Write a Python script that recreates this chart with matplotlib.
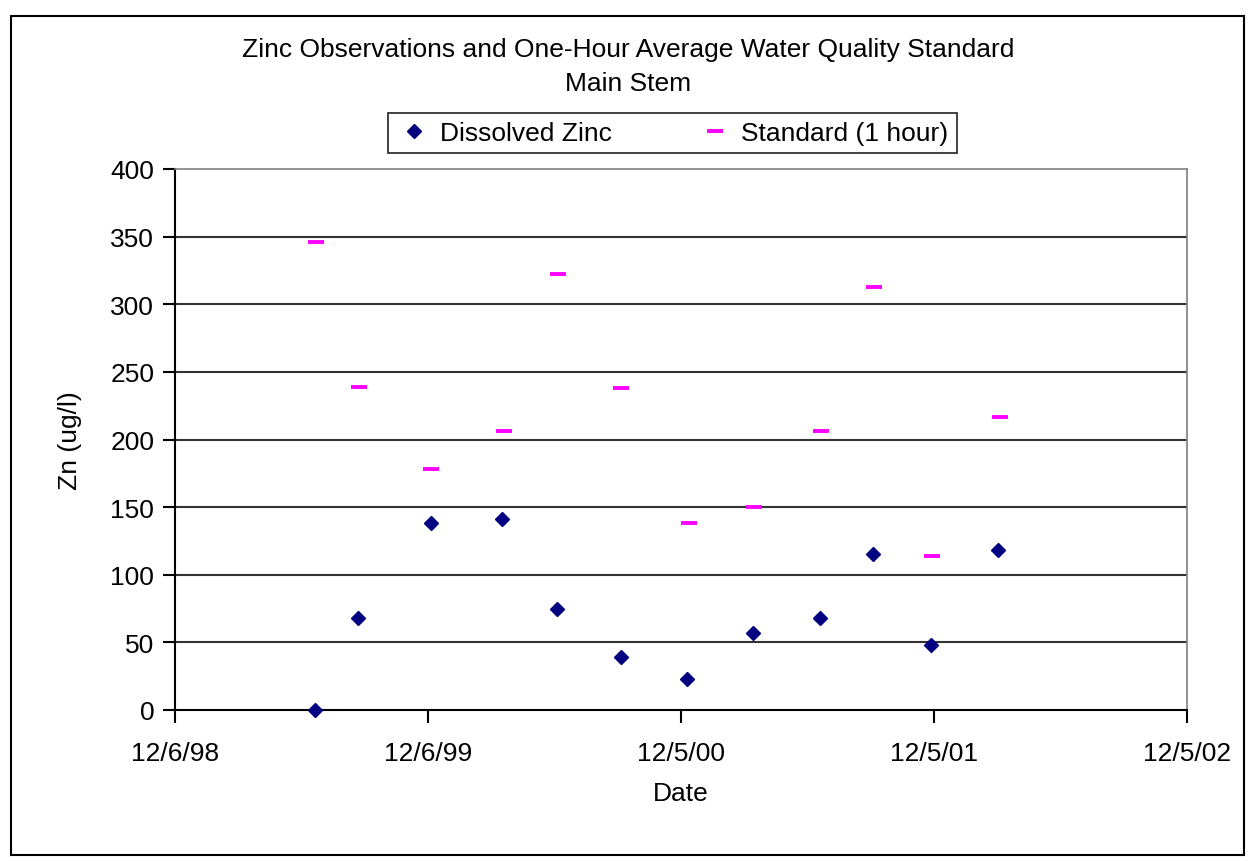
import matplotlib
matplotlib.use("Agg")
import matplotlib.pyplot as plt
import matplotlib.dates as mdates
from matplotlib.patches import Rectangle
from matplotlib.lines import Line2D
import pandas as pd

plt.rcParams['font.family'] = ['Liberation Sans', 'DejaVu Sans']

zinc_dates = ["1999-06-26", "1999-08-27", "1999-12-10", "2000-03-22", "2000-06-09",
              "2000-09-10", "2000-12-14", "2001-03-19", "2001-06-24", "2001-09-08",
              "2001-12-01", "2002-03-08"]
zinc_values = [0, 68, 138, 141, 75, 39, 23, 57, 68, 115, 48, 118]

std_dates = ["1999-06-27", "1999-08-28", "1999-12-11", "2000-03-24", "2000-06-10",
             "2000-09-10", "2000-12-16", "2001-03-21", "2001-06-25", "2001-09-09",
             "2001-12-02", "2002-03-10"]
std_values = [346, 239, 178, 206, 322, 238, 138, 150, 206, 313, 114, 217]

x_tick_dates = ["1998-12-06", "1999-12-06", "2000-12-05", "2001-12-05", "2002-12-05"]
x_tick_labels = ["12/6/98", "12/6/99", "12/5/00", "12/5/01", "12/5/02"]
y_ticks = [0, 50, 100, 150, 200, 250, 300, 350, 400]

title = "Zinc Observations and One-Hour Average Water Quality Standard\nMain Stem"

W, H = 1248, 862
FS = 19
fig = plt.figure(figsize=(W / 100, H / 100), dpi=100)
fig.patch.set_facecolor("white")

ax = fig.add_axes([175 / W, 1 - 711 / H, (1187 - 175) / W, (711 - 170) / H])

zd = pd.to_datetime(zinc_dates)
sd = pd.to_datetime(std_dates)
xt = pd.to_datetime(x_tick_dates)

for y in y_ticks[1:-1]:
    ax.axhline(y, color="#333333", linewidth=1.5, zorder=1)

ax.plot(zd, zinc_values, linestyle="none", marker="D", markersize=7,
        color="#000080", zorder=3, clip_on=False)
ax.plot(sd, std_values, linestyle="none", marker="_", markersize=11,
        markeredgewidth=2.8, color="#FF00FF", zorder=3, clip_on=False)

ax.set_xlim(xt[0], xt[-1])
ax.set_ylim(0, 400)
ax.set_xticks(xt)
ax.set_xticklabels(x_tick_labels)
ax.set_yticks(y_ticks)
ax.set_yticklabels([str(v) for v in y_ticks])
ax.tick_params(axis="both", direction="out", length=9, width=1.5, color="black",
               labelsize=FS)
ax.tick_params(axis="x", pad=13)
ax.tick_params(axis="y", pad=6)

for s in ["left", "bottom"]:
    ax.spines[s].set_color("black")
    ax.spines[s].set_linewidth(1.5)
for s in ["top", "right"]:
    ax.spines[s].set_color("#808080")
    ax.spines[s].set_linewidth(1.2)

ax.set_xlabel("Date", fontsize=FS, labelpad=12)
ax.set_ylabel("Zn (ug/l)", fontsize=FS, labelpad=20)

fig.text(628 / W, 1 - 67 / H, title, ha="center", va="center", fontsize=FS,
         linespacing=1.55)

handles = [
    Line2D([], [], linestyle="none", marker="D", markersize=7, color="#000080"),
    Line2D([], [], linestyle="none", marker="_", markersize=11,
           markeredgewidth=2.8, color="#FF00FF"),
]
leg = fig.legend(handles, ["Dissolved Zinc", "Standard (1 hour)"], ncol=2,
                 loc="center", bbox_to_anchor=(672 / W, 1 - 134 / H),
                 fontsize=FS, frameon=True, fancybox=False, handlelength=1.4,
                 handletextpad=0.3, columnspacing=3.2, borderpad=0.3,
                 borderaxespad=0)
leg.get_frame().set_edgecolor("black")
leg.get_frame().set_linewidth(1.3)

fig.patches.append(Rectangle((11 / W, 1 - 856 / H), (1244 - 11) / W, (856 - 17) / H,
                             transform=fig.transFigure, fill=False,
                             edgecolor="black", linewidth=1.5))

fig.savefig("out.png", dpi=100, facecolor="white")
